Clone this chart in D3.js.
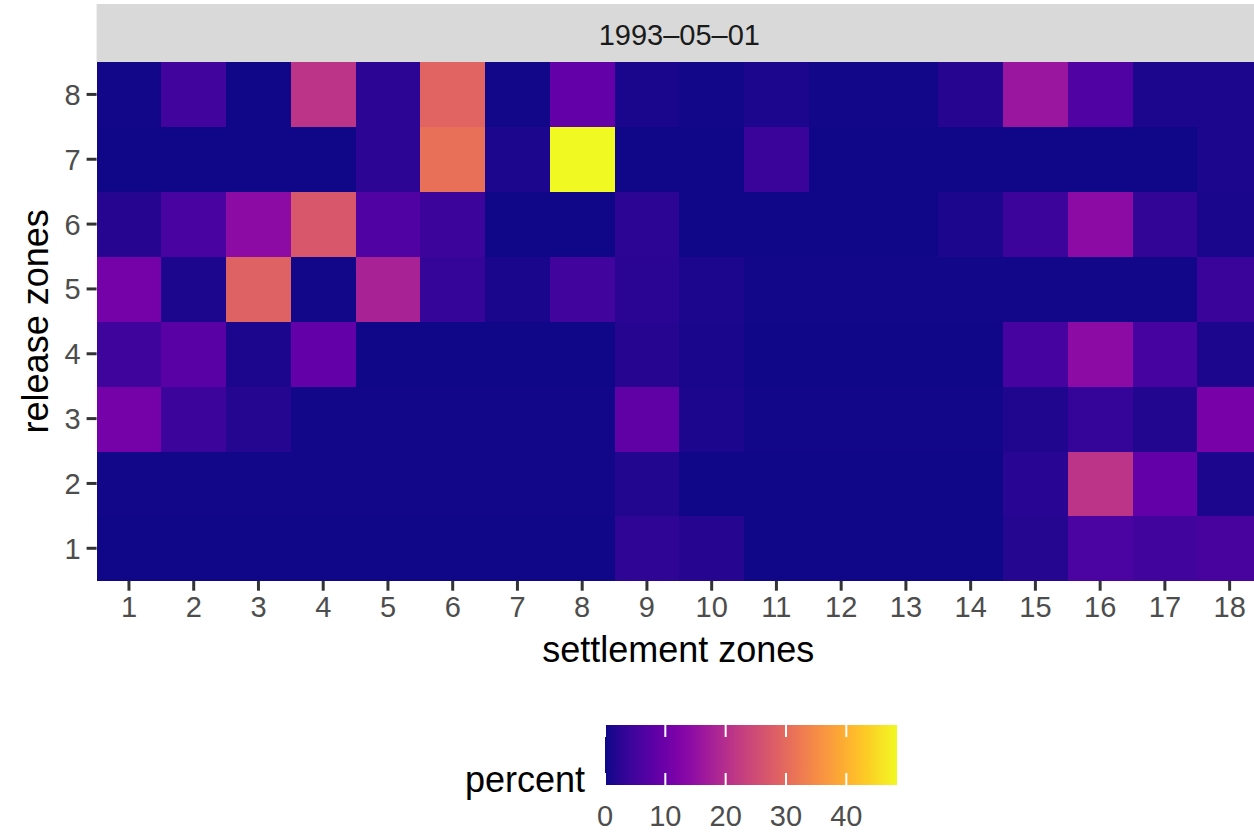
<!DOCTYPE html>
<html><head><meta charset="utf-8">
<script src="https://cdn.jsdelivr.net/npm/d3@7"></script>
<style>body{margin:0;background:#fff}text{font-family:"Liberation Sans",Arial,sans-serif}</style>
</head><body><svg id="c" width="1254" height="832"></svg>
<script>
const settlementZones = d3.range(1, 19);
const releaseZones = d3.range(1, 9);
const facetLabel = "1993-05-01";
const legendTicks = [0, 10, 20, 30, 40];
// percent values, rows = release zone 1..8, columns = settlement zone 1..18
const row1 = [0.3,0.3,0.3,0.3,0.3,0.3,0.3,0.3,3.0,2.0,0.3,0.3,0.3,0.3,1.8,6.0,4.8,5.5];
const row2 = [0.5,0.5,0.5,0.5,0.5,0.5,0.5,0.5,1.7,0.3,0.3,0.3,0.3,0.3,2.2,21,9.0,1.0];
const row3 = [11,4.2,1.8,0.5,0.5,0.5,0.5,0.5,8.5,1.0,0.5,0.5,0.5,0.5,1.5,3.5,1.6,11.5];
const row4 = [4.5,7.7,1.0,8.9,0.3,0.3,0.3,0.3,2.0,0.8,0.3,0.3,0.3,0.3,5.3,14,5.3,1.0];
const row5 = [11,1.0,28.5,0.5,18,3.5,0.8,4.8,2.3,1.0,0.5,0.5,0.5,0.5,0.5,0.5,0.5,4.0];
const row6 = [2.0,5.8,14,27,6.8,4.2,0.3,0.3,2.5,0.3,0.3,0.3,0.3,1.0,4.2,14,3.4,0.8];
const row7 = [0.3,0.3,0.3,0.3,2.5,31,1.0,48.4,0.3,0.3,4.0,0.3,0.3,0.3,0.3,0.3,0.3,1.0];
const row8 = [0.5,4.8,0.3,21,2.5,29,0.5,8.7,0.8,0.5,1.0,0.5,0.5,2.0,16,6.8,1.0,1.0];
const rows = [row1,row2,row3,row4,row5,row6,row7,row8];

const cells = [];
rows.forEach((r, i) => r.forEach((v, j) => cells.push({x: settlementZones[j], y: releaseZones[i], v})));
const vmax = d3.max(cells, d => d.v);

const svg = d3.select("#c");
const L = 96.6, R = 1262, T = 62, B = 580.7;
const x = d3.scaleBand().domain(settlementZones).range([L, R]);
const y = d3.scaleBand().domain(releaseZones.slice().reverse()).range([T, B]);
const color = d3.scaleSequential(d3.interpolatePlasma).domain([0, vmax]);

// strip
svg.append("rect").attr("x", L).attr("y", 4).attr("width", R - L).attr("height", T - 4).attr("fill", "#d9d9d9");
svg.append("text").attr("x", (L + R) / 2).attr("y", 45).attr("text-anchor", "middle")
  .attr("font-size", 29).attr("fill", "#1a1a1a").text(facetLabel.replace(/-/g, "\u2013"));

// tiles
svg.append("g").selectAll("rect").data(cells).join("rect")
  .attr("x", d => x(d.x)).attr("y", d => y(d.y))
  .attr("width", x.bandwidth() + 0.5).attr("height", y.bandwidth() + 0.5)
  .attr("fill", d => color(d.v)).attr("shape-rendering", "crispEdges");

// axes
const xAxis = svg.append("g").attr("transform", `translate(0,${B})`)
  .call(d3.axisBottom(x).tickSize(10).tickPadding(6));
const yAxis = svg.append("g").attr("transform", `translate(${L},0)`)
  .call(d3.axisLeft(y).tickSize(10).tickPadding(6));
[xAxis, yAxis].forEach(g => {
  g.select(".domain").remove();
  g.selectAll(".tick line").attr("stroke", "#333333").attr("stroke-width", 3);
  g.selectAll(".tick text").attr("fill", "#4d4d4d").attr("font-size", 29)
    .attr("font-family", "Liberation Sans, Arial, sans-serif");
});
yAxis.selectAll(".tick text").attr("dy", "0.36em");

svg.append("text").attr("x", (L + R) / 2 - 1).attr("y", 662).attr("text-anchor", "middle")
  .attr("font-size", 36).attr("fill", "#000").text("settlement zones");
svg.append("text").attr("transform", `translate(48,${(T + B) / 2}) rotate(-90)`).attr("text-anchor", "middle")
  .attr("font-size", 36).attr("fill", "#000").text("release zones");

// legend
const lx0 = 605, lx1 = 897, ly0 = 725, ly1 = 785;
const lscale = d3.scaleLinear().domain([0, vmax]).range([lx0, lx1]);
const defs = svg.append("defs");
const grad = defs.append("linearGradient").attr("id", "g");
d3.range(0, 1.0001, 0.05).forEach(t => grad.append("stop").attr("offset", t).attr("stop-color", d3.interpolatePlasma(t)));
svg.append("rect").attr("x", lx0).attr("y", ly0).attr("width", lx1 - lx0).attr("height", ly1 - ly0).attr("fill", "url(#g)");
const lg = svg.append("g");
legendTicks.forEach(t => {
  const px = lscale(t);
  lg.append("line").attr("x1", px).attr("x2", px).attr("y1", ly0).attr("y2", ly0 + 12).attr("stroke", "#fff").attr("stroke-width", 2);
  lg.append("line").attr("x1", px).attr("x2", px).attr("y1", ly1 - 12).attr("y2", ly1).attr("stroke", "#fff").attr("stroke-width", 2);
  lg.append("text").attr("x", px).attr("y", 826).attr("text-anchor", "middle").attr("font-size", 29).attr("fill", "#4d4d4d").text(t);
});
svg.append("text").attr("x", 585).attr("y", 792).attr("text-anchor", "end").attr("font-size", 36).attr("fill", "#000").text("percent");
</script></body></html>
